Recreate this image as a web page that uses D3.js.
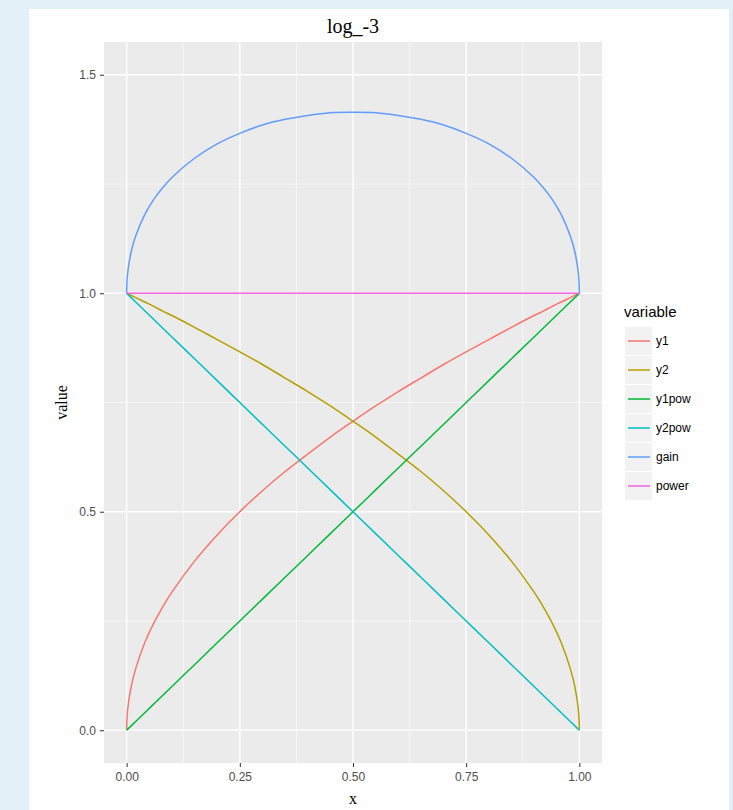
<!DOCTYPE html>
<html>
<head>
<meta charset="utf-8">
<script src="https://cdn.jsdelivr.net/npm/d3@7.9.0/dist/d3.min.js"></script>
<style>
    html, body { margin: 0; padding: 0; background: #e4f0f8; }
    svg { display: block; }
</style>
</head>
<body>
<svg id="chart" width="733" height="810"></svg>
<script>
// values
const xs    = [0, 0.002, 0.01, 0.02, 0.04, 0.06, 0.08, 0.1, 0.15, 0.2, 0.25, 0.3, 0.35, 0.4, 0.45, 0.5,
               0.55, 0.6, 0.65, 0.7, 0.75, 0.8, 0.85, 0.9, 0.92, 0.94, 0.96, 0.98, 0.99, 0.998, 1];
const y1    = [0, 0.045, 0.100, 0.141, 0.200, 0.245, 0.283, 0.316, 0.387, 0.447, 0.500, 0.548, 0.592, 0.632, 0.671, 0.707,
               0.742, 0.775, 0.806, 0.837, 0.866, 0.894, 0.922, 0.949, 0.959, 0.970, 0.980, 0.990, 0.995, 0.999, 1];
const y2    = [1, 0.999, 0.995, 0.990, 0.980, 0.970, 0.959, 0.949, 0.922, 0.894, 0.866, 0.837, 0.806, 0.775, 0.742, 0.707,
               0.671, 0.632, 0.592, 0.548, 0.500, 0.447, 0.387, 0.316, 0.283, 0.245, 0.200, 0.141, 0.100, 0.045, 0];
const y1pow = [0, 0.002, 0.01, 0.02, 0.04, 0.06, 0.08, 0.1, 0.15, 0.2, 0.25, 0.3, 0.35, 0.4, 0.45, 0.5,
               0.55, 0.6, 0.65, 0.7, 0.75, 0.8, 0.85, 0.9, 0.92, 0.94, 0.96, 0.98, 0.99, 0.998, 1];
const y2pow = [1, 0.998, 0.99, 0.98, 0.96, 0.94, 0.92, 0.9, 0.85, 0.8, 0.75, 0.7, 0.65, 0.6, 0.55, 0.5,
               0.45, 0.4, 0.35, 0.3, 0.25, 0.2, 0.15, 0.1, 0.08, 0.06, 0.04, 0.02, 0.01, 0.002, 0];
const gain  = [1, 1.044, 1.095, 1.131, 1.180, 1.215, 1.242, 1.265, 1.309, 1.342, 1.366, 1.385, 1.398, 1.407, 1.413, 1.414,
               1.413, 1.407, 1.398, 1.385, 1.366, 1.342, 1.309, 1.265, 1.242, 1.215, 1.180, 1.131, 1.095, 1.044, 1];
const power = [1, 1, 1, 1, 1, 1, 1, 1, 1, 1, 1, 1, 1, 1, 1, 1,
               1, 1, 1, 1, 1, 1, 1, 1, 1, 1, 1, 1, 1, 1, 1];

const seriesNames = ['y1', 'y2', 'y1pow', 'y2pow', 'gain', 'power'];
const seriesValues = [y1, y2, y1pow, y2pow, gain, power];
const xTicks = [0, 0.25, 0.5, 0.75, 1];
const xTickLabels = ['0.00', '0.25', '0.50', '0.75', '1.00'];
const yTicks = [0, 0.5, 1, 1.5];
const yTickLabels = ['0.0', '0.5', '1.0', '1.5'];

let colors = d3.scaleOrdinal()
    .domain(seriesNames)
    .range(['#F8766D', '#B79F00', '#00BA38', '#00BFC4', '#619CFF', '#F564E3']);

const svg = d3.select('#chart');

// white plot sheet over the blue page
svg.append('rect')
    .attr('x', 29).attr('y', 9)
    .attr('width', 700).attr('height', 801)
    .attr('fill', '#ffffff');

const panel = {left: 104, right: 602, top: 42, bottom: 763};

let x = d3.scaleLinear().domain([-0.05, 1.05]).range([panel.left, panel.right]);
let y = d3.scaleLinear().domain([-0.075, 1.575]).range([panel.bottom, panel.top]);

svg.append('rect')
    .attr('x', panel.left).attr('y', panel.top)
    .attr('width', panel.right - panel.left).attr('height', panel.bottom - panel.top)
    .attr('fill', '#ebebeb');

// grid
const xMinor = [0.125, 0.375, 0.625, 0.875];
const yMinor = [0.25, 0.75, 1.25];
const grid = svg.append('g');
grid.selectAll('.xminor').data(xMinor).join('line')
    .attr('x1', (d) => x(d)).attr('x2', (d) => x(d))
    .attr('y1', panel.top).attr('y2', panel.bottom)
    .attr('stroke', '#fafafa').attr('stroke-width', 0.7);
grid.selectAll('.yminor').data(yMinor).join('line')
    .attr('class', 'yminor')
    .attr('x1', panel.left).attr('x2', panel.right)
    .attr('y1', (d) => y(d)).attr('y2', (d) => y(d))
    .attr('stroke', '#fafafa').attr('stroke-width', 0.7);
grid.selectAll('.xmajor').data(xTicks).join('line')
    .attr('class', 'xmajor')
    .attr('x1', (d) => x(d)).attr('x2', (d) => x(d))
    .attr('y1', panel.top).attr('y2', panel.bottom)
    .attr('stroke', '#ffffff').attr('stroke-width', 1.4);
grid.selectAll('.ymajor').data(yTicks).join('line')
    .attr('class', 'ymajor')
    .attr('x1', panel.left).attr('x2', panel.right)
    .attr('y1', (d) => y(d)).attr('y2', (d) => y(d))
    .attr('stroke', '#ffffff').attr('stroke-width', 1.4);

// lines
let lineGen = d3.line()
    .x((d) => x(d[0]))
    .y((d) => y(d[1]))
    .curve(d3.curveCatmullRom.alpha(0.5));

seriesValues.forEach((vals, idx) => {
    svg.append('path')
        .attr('d', lineGen(xs.map((xv, i) => [xv, vals[i]])))
        .attr('fill', 'none')
        .attr('stroke', colors(seriesNames[idx]))
        .attr('stroke-width', 1.5);
});

// axes
let xAxis = d3.axisBottom(x).tickValues(xTicks)
    .tickFormat((d, i) => xTickLabels[i]).tickSize(4).tickPadding(5);
let gx = svg.append('g').attr('transform', `translate(0,${panel.bottom})`).call(xAxis);

let yAxis = d3.axisLeft(y).tickValues(yTicks)
    .tickFormat((d, i) => yTickLabels[i]).tickSize(4).tickPadding(4);
let gy = svg.append('g').attr('transform', `translate(${panel.left},0)`).call(yAxis);

[gx, gy].forEach((g) => {
    g.select('.domain').remove();
    g.selectAll('line').attr('stroke', '#333333');
    g.selectAll('text')
        .attr('fill', '#4d4d4d')
        .style('font-family', 'Liberation Sans, Arial, sans-serif')
        .style('font-size', '12px');
});

// titles
svg.append('text')
    .attr('x', (panel.left + panel.right) / 2).attr('y', 33)
    .attr('text-anchor', 'middle')
    .style('font-family', 'Liberation Serif, Times New Roman, serif')
    .style('font-size', '20px')
    .text('log_-3');

svg.append('text')
    .attr('x', x(0.5)).attr('y', 804)
    .attr('text-anchor', 'middle')
    .style('font-family', 'Liberation Serif, Times New Roman, serif')
    .style('font-size', '16px')
    .text('x');

svg.append('text')
    .attr('transform', `translate(67,${(panel.top + panel.bottom) / 2}) rotate(-90)`)
    .attr('text-anchor', 'middle')
    .style('font-family', 'Liberation Serif, Times New Roman, serif')
    .style('font-size', '16px')
    .text('value');

// legend
let legend = svg.append('g').attr('transform', 'translate(624,0)');
legend.append('text')
    .attr('x', 0).attr('y', 317)
    .style('font-family', 'Liberation Sans, Arial, sans-serif')
    .style('font-size', '15px')
    .attr('fill', '#000')
    .text('variable');

seriesNames.forEach((name, idx) => {
    let cy = 341 + idx * 29;
    legend.append('rect')
        .attr('x', 1).attr('y', cy - 14)
        .attr('width', 27).attr('height', 28)
        .attr('fill', '#f2f2f2');
    legend.append('line')
        .attr('x1', 4).attr('x2', 26)
        .attr('y1', cy).attr('y2', cy)
        .attr('stroke', colors(name))
        .attr('stroke-width', 1.5);
    legend.append('text')
        .attr('x', 32).attr('y', cy + 4)
        .style('font-family', 'Liberation Sans, Arial, sans-serif')
        .style('font-size', '12px')
        .attr('fill', '#000')
        .text(name);
});
</script>
</body>
</html>
